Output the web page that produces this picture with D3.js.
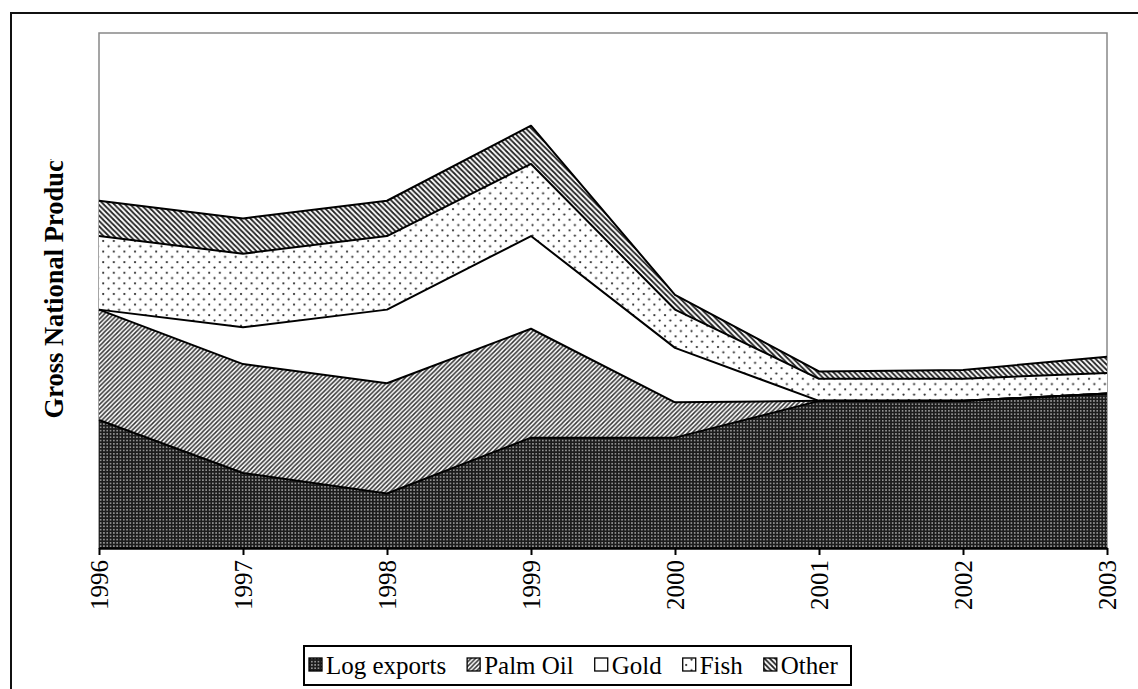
<!DOCTYPE html>
<html>
<head>
<meta charset="utf-8">
<script src="https://cdn.jsdelivr.net/npm/d3@7"></script>
<style>
  body { margin: 0; background: #fff; }
  svg { display: block; font-family: "Liberation Serif", "Times New Roman", serif; }
</style>
</head>
<body>
<div id="chart"></div>
<script>
// Chart data (units are arbitrary, no y ticks shown)
const years = ["1996", "1997", "1998", "1999", "2000", "2001", "2002", "2003"];
const logExports = [87, 51, 37, 75, 75, 100, 100, 105];
const palmOil    = [75, 74, 75, 74, 24, 0, 0, 0];
const gold       = [0, 25, 50, 63, 37, 0, 0, 0];
const fish       = [50, 50, 50, 49, 26, 15, 15, 14];
const other      = [24, 24, 24, 26, 10, 5, 6, 11];
const seriesNames = ["Log exports", "Palm Oil", "Gold", "Fish", "Other"];

function chart(container) {
    const width = 1138;
    const height = 689;
    const plot = {left: 99, right: 1107, top: 33, bottom: 548};

    // one row per year for d3.stack
    const table = years.map((y, i) => ({
        year: y,
        "Log exports": logExports[i],
        "Palm Oil": palmOil[i],
        "Gold": gold[i],
        "Fish": fish[i],
        "Other": other[i]
    }));

    const layers = d3.stack().keys(seriesNames)(table);

    const x = d3.scalePoint()
        .domain(years)
        .range([plot.left, plot.right]);

    const y = d3.scaleLinear()
        .domain([0, 350])
        .range([plot.bottom, plot.top]);

    // attach right away so text lengths can be measured
    const svg = d3.select(container).append("svg")
        .attr("width", width)
        .attr("height", height)
        .attr("viewBox", [0, 0, width, height]);

    // fill patterns, Excel style
    const defs = svg.append("defs");

    const pLog = defs.append("pattern")
        .attr("id", "p-log")
        .attr("patternUnits", "userSpaceOnUse")
        .attr("width", 3.3).attr("height", 3.3);
    pLog.append("rect").attr("width", 3.3).attr("height", 3.3).attr("fill", "#1c1c1c");
    pLog.append("rect").attr("x", 1).attr("y", 1).attr("width", 1.3).attr("height", 1.3).attr("fill", "#d8d8d8");

    const pPalm = defs.append("pattern")
        .attr("id", "p-palm")
        .attr("patternUnits", "userSpaceOnUse")
        .attr("width", 4.5).attr("height", 4.5);
    pPalm.append("rect").attr("width", 4.5).attr("height", 4.5).attr("fill", "#fff");
    pPalm.append("path")
        .attr("d", "M-1,1 l2,-2 M0,4.5 l4.5,-4.5 M3.5,5.5 l2,-2")
        .attr("stroke", "#333").attr("stroke-width", 1.5);

    const pGold = defs.append("pattern")
        .attr("id", "p-gold")
        .attr("patternUnits", "userSpaceOnUse")
        .attr("width", 4).attr("height", 4);
    pGold.append("rect").attr("width", 4).attr("height", 4).attr("fill", "#fff");

    const pFish = defs.append("pattern")
        .attr("id", "p-fish")
        .attr("patternUnits", "userSpaceOnUse")
        .attr("width", 10.6).attr("height", 10.6);
    pFish.append("rect").attr("width", 10.6).attr("height", 10.6).attr("fill", "#fff");
    pFish.append("circle").attr("cx", 2.5).attr("cy", 2.5).attr("r", 1.1).attr("fill", "#222");
    pFish.append("circle").attr("cx", 7.8).attr("cy", 7.8).attr("r", 1.1).attr("fill", "#222");

    const pOther = defs.append("pattern")
        .attr("id", "p-other")
        .attr("patternUnits", "userSpaceOnUse")
        .attr("width", 5.3).attr("height", 5.3);
    pOther.append("rect").attr("width", 5.3).attr("height", 5.3).attr("fill", "#fff");
    pOther.append("path")
        .attr("d", "M-1,4.3 l2,2 M0,0 l5.3,5.3 M4.3,-1 l2,2")
        .attr("stroke", "#222").attr("stroke-width", 1.8);

    const fills = {
        "Log exports": "url(#p-log)",
        "Palm Oil": "url(#p-palm)",
        "Gold": "url(#p-gold)",
        "Fish": "url(#p-fish)",
        "Other": "url(#p-other)"
    };

    // outer chart frame (only top/left edges fall inside the picture)
    svg.append("rect")
        .attr("x", 11).attr("y", 13)
        .attr("width", width + 20).attr("height", height + 20)
        .attr("fill", "none")
        .attr("stroke", "#111")
        .attr("stroke-width", 2);

    // plot area border
    svg.append("rect")
        .attr("x", plot.left).attr("y", plot.top)
        .attr("width", plot.right - plot.left)
        .attr("height", plot.bottom - plot.top)
        .attr("fill", "#fff")
        .attr("stroke", "#888")
        .attr("stroke-width", 1.5);

    const area = d3.area()
        .x((d, i) => x(years[i]))
        .y0(d => y(d[0]))
        .y1(d => y(d[1]));

    const line = d3.line()
        .x((d, i) => x(years[i]))
        .y(d => y(d[1]));

    svg.append("g")
        .selectAll("path")
        .data(layers)
        .join("path")
        .attr("fill", d => fills[d.key])
        .attr("d", area);

    svg.append("g")
        .attr("fill", "none")
        .attr("stroke", "#000")
        .attr("stroke-width", 2)
        .attr("stroke-linejoin", "round")
        .selectAll("path")
        .data(layers)
        .join("path")
        .attr("d", line);

    // x axis
    const xAxis = svg.append("g")
        .attr("transform", `translate(0,${plot.bottom})`)
        .call(d3.axisBottom(x).tickSize(7).tickSizeOuter(0).tickPadding(0));
    xAxis.select(".domain")
        .attr("stroke", "#000")
        .attr("stroke-width", 2.5);
    xAxis.selectAll(".tick line")
        .attr("stroke", "#000")
        .attr("stroke-width", 2);
    xAxis.selectAll(".tick text")
        .attr("font-family", "Liberation Serif, Times New Roman, serif")
        .attr("font-size", 25)
        .attr("fill", "#000")
        .attr("text-anchor", "end")
        .attr("transform", "translate(0,12) rotate(-90)")
        .attr("x", 0)
        .attr("y", 0)
        .attr("dy", "0.35em");

    // y axis title, clipped at the top as in the source
    svg.append("clipPath")
        .attr("id", "ytitle-clip")
        .append("rect")
        .attr("x", 20).attr("y", 159)
        .attr("width", 70).attr("height", 300);

    svg.append("g")
        .attr("clip-path", "url(#ytitle-clip)")
        .append("text")
        .attr("transform", "translate(63,285) rotate(-90)")
        .attr("text-anchor", "middle")
        .attr("font-size", 26.5)
        .attr("font-weight", "bold")
        .attr("fill", "#000")
        .text("Gross National Product");

    // legend
    const legend = svg.append("g");
    legend.append("rect")
        .attr("x", 304).attr("y", 646)
        .attr("width", 547).attr("height", 39)
        .attr("fill", "#fff")
        .attr("stroke", "#000")
        .attr("stroke-width", 2);

    let lx = 309;
    seriesNames.forEach(name => {
        legend.append("rect")
            .attr("x", lx).attr("y", 658)
            .attr("width", 13).attr("height", 13)
            .attr("fill", fills[name])
            .attr("stroke", "#000")
            .attr("stroke-width", 1.3);
        const t = legend.append("text")
            .attr("x", lx + 17).attr("y", 674)
            .attr("font-size", 25)
            .attr("fill", "#000")
            .text(name);
        lx += 17 + t.node().getComputedTextLength() + 21;
    });

    return svg.node();
}

chart(document.getElementById("chart"));
</script>
</body>
</html>
